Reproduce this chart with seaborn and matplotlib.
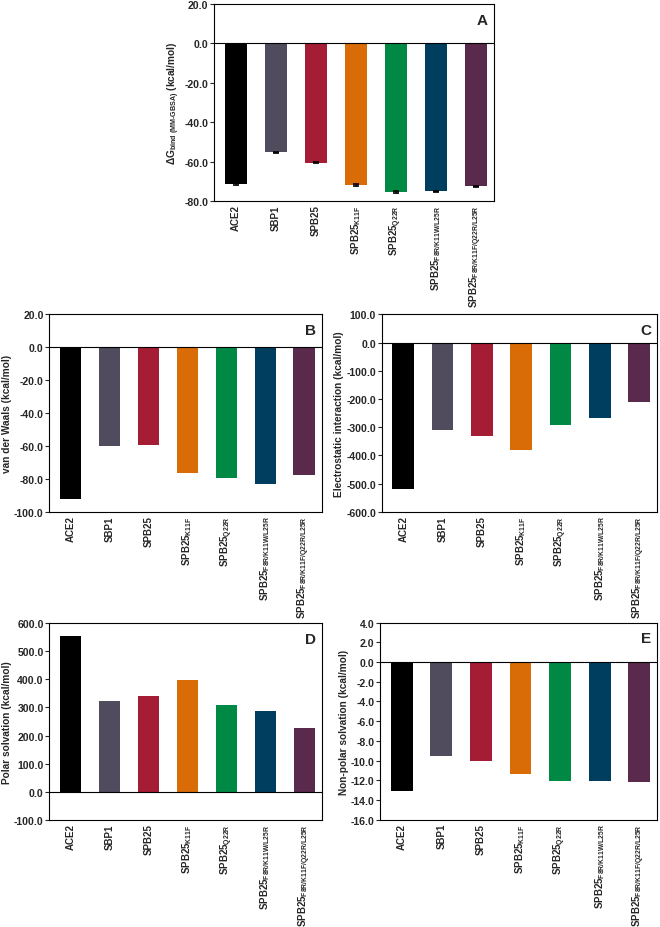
import numpy as np
import pandas as pd
import matplotlib
matplotlib.use("Agg")
import matplotlib.pyplot as plt
import seaborn as sns

# === data ===
systems = ["ACE2", "SBP1", "SPB25", "SPB25_K11F", "SPB25_Q22R",
           "SPB25_F8R/K11W/L25R", "SPB25_F8R/K11F/Q22R/L25R"]
tick_labels = ["ACE2", "SBP1", "SPB25",
               r"SPB25$_{\mathregular{K11F}}$",
               r"SPB25$_{\mathregular{Q22R}}$",
               r"SPB25$_{\mathregular{F8R/K11W/L25R}}$",
               r"SPB25$_{\mathregular{F8R/K11F/Q22R/L25R}}$"]
colors = ["#000000", "#504b5d", "#a51c35", "#d96c06", "#008945", "#003e60", "#5a2a4c"]

dg_bind = [-71.5, -55.3, -60.5, -71.8, -75.5, -75.1, -72.5]
dg_bind_err = [0.4, 0.3, 0.3, 0.4, 0.4, 0.3, 0.3]
vdw = [-92.3, -60.2, -59.5, -76.6, -79.5, -83.3, -77.7]
elec = [-519.0, -308.5, -331.0, -379.5, -293.5, -267.5, -209.5]
polar = [554.0, 322.5, 340.5, 396.0, 309.5, 288.5, 226.5]
nonpolar = [-13.08, -9.49, -10.06, -11.35, -12.1, -12.1, -12.13]

sns.set_style("white")
plt.rcParams["font.family"] = ["Liberation Sans", "DejaVu Sans"]
plt.rcParams["font.weight"] = "bold"
plt.rcParams["mathtext.fontset"] = "custom"
plt.rcParams["mathtext.rm"] = "Liberation Sans:bold"
plt.rcParams["mathtext.default"] = "rm"


def draw_panel(ax, values, ylabel, ylim, step, letter, err=None):
    df = pd.DataFrame({"system": systems, "value": values})
    sns.barplot(data=df, x="system", y="value", hue="system", palette=colors,
                saturation=1, legend=False, width=0.55, errorbar=None,
                linewidth=0, ax=ax)
    if err is not None:
        ax.errorbar(np.arange(len(values)), values, yerr=err, fmt="none",
                    ecolor="black", elinewidth=1.0, capsize=2.5, capthick=1.2)
    ax.axhline(0, color="black", lw=0.8)
    ax.set_ylim(ylim[1], ylim[0])
    ax.set_yticks(np.arange(ylim[1], ylim[0] + step / 2, step))
    ax.yaxis.set_major_formatter(matplotlib.ticker.FormatStrFormatter("%.1f"))
    ax.set_xlim(-0.55, 6.45)
    ax.set_xticks(range(len(systems)))
    ax.set_xticklabels(tick_labels, rotation=90, fontsize=7, fontweight="bold")
    ax.tick_params(axis="x", length=0, pad=2.5)
    ax.tick_params(axis="y", length=3, width=0.8, direction="out", left=True,
                   labelsize=7.6, pad=1)
    for t in ax.get_yticklabels():
        t.set_fontweight("bold")
    ax.set_xlabel("")
    ax.set_ylabel(ylabel, fontsize=7.3, fontweight="bold", labelpad=1.5)
    for s in ax.spines.values():
        s.set_color("black")
        s.set_linewidth(0.8)
    ax.text(0.978, 0.955, letter, transform=ax.transAxes, ha="right", va="top",
            fontsize=11, fontweight="bold")


fig = plt.figure(figsize=(6.6, 9.28), dpi=100)
axA = fig.add_axes([0.324, 0.7823, 0.4245, 0.2123])
axB = fig.add_axes([0.0747, 0.4475, 0.4127, 0.2127])
axC = fig.add_axes([0.5783, 0.4475, 0.4171, 0.2127])
axD = fig.add_axes([0.0747, 0.1153, 0.4130, 0.2123])
axE = fig.add_axes([0.5758, 0.1157, 0.4197, 0.2123])

draw_panel(axA, dg_bind,
           r"ΔG$_{\text{bind (MM-GBSA)}}$ (kcal/mol)",
           (20, -80), 20, "A", err=dg_bind_err)
draw_panel(axB, vdw, "van der Waals (kcal/mol)", (20, -100), 20, "B")
draw_panel(axC, elec, "Electrostatic interaction (kcal/mol)", (100, -600), 100, "C")
draw_panel(axD, polar, "Polar solvation (kcal/mol)", (600, -100), 100, "D")
draw_panel(axE, nonpolar, "Non-polar solvation (kcal/mol)", (4, -16), 2, "E")

fig.savefig("out.png", dpi=100)
